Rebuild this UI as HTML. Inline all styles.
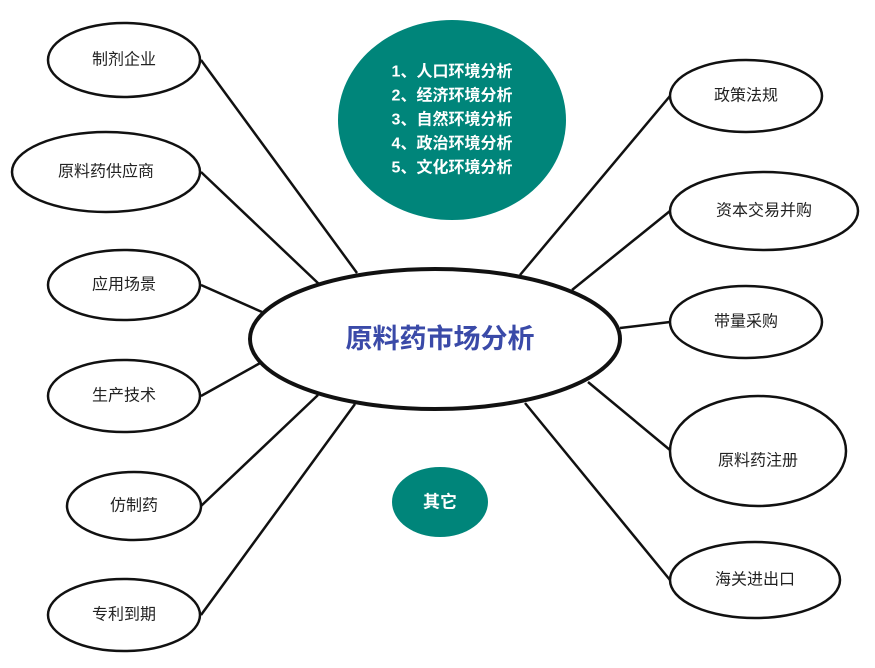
<!DOCTYPE html>
<html><head><meta charset="utf-8"><style>
html,body{margin:0;padding:0;background:#fff}
svg text{font-family:"Liberation Sans","Noto Sans CJK SC",sans-serif;text-anchor:middle;dominant-baseline:central}
</style></head><body>
<svg width="875" height="663" viewBox="0 0 875 663" xmlns="http://www.w3.org/2000/svg">
<g stroke="#111" stroke-width="2.5" fill="none">
<line x1="201" y1="60" x2="357" y2="273"/>
<line x1="201" y1="172" x2="320" y2="285"/>
<line x1="201" y1="285" x2="262" y2="312"/>
<line x1="201" y1="396" x2="262" y2="362"/>
<line x1="201" y1="506" x2="318" y2="395"/>
<line x1="201" y1="615" x2="355" y2="404"/>
<line x1="670" y1="96" x2="520" y2="275"/>
<line x1="670" y1="211" x2="572" y2="290"/>
<line x1="670" y1="322" x2="620" y2="328"/>
<line x1="670" y1="450" x2="588" y2="382"/>
<line x1="670" y1="580" x2="525" y2="403"/>
</g>
<ellipse cx="452" cy="120" rx="114" ry="100" fill="#00857a"/>
<g fill="#fff" font-weight="bold" font-size="16">
<text x="452" y="72">1、人口环境分析</text>
<text x="452" y="96">2、经济环境分析</text>
<text x="452" y="120">3、自然环境分析</text>
<text x="452" y="144">4、政治环境分析</text>
<text x="452" y="168">5、文化环境分析</text>
</g>
<ellipse cx="440" cy="502" rx="48" ry="35" fill="#00857a"/>
<text x="440" y="502" fill="#fff" font-weight="bold" font-size="17">其它</text>
<g fill="#fff" stroke="#111" stroke-width="2.5">
<ellipse cx="124" cy="60" rx="76" ry="37"/>
<ellipse cx="106" cy="172" rx="94" ry="40"/>
<ellipse cx="124" cy="285" rx="76" ry="35"/>
<ellipse cx="124" cy="396" rx="76" ry="36"/>
<ellipse cx="134" cy="506" rx="67" ry="34"/>
<ellipse cx="124" cy="615" rx="76" ry="36"/>
<ellipse cx="746" cy="96" rx="76" ry="36"/>
<ellipse cx="764" cy="211" rx="94" ry="39"/>
<ellipse cx="746" cy="322" rx="76" ry="36"/>
<ellipse cx="758" cy="451" rx="88" ry="55"/>
<ellipse cx="755" cy="580" rx="85" ry="38"/>
<ellipse cx="435" cy="339" rx="185" ry="70" stroke-width="4"/>
</g>
<g fill="#222" font-size="16">
<text x="124" y="60">制剂企业</text>
<text x="106" y="172">原料药供应商</text>
<text x="124" y="285">应用场景</text>
<text x="124" y="396">生产技术</text>
<text x="134" y="506">仿制药</text>
<text x="124" y="615">专利到期</text>
<text x="746" y="96">政策法规</text>
<text x="764" y="211">资本交易并购</text>
<text x="746" y="322">带量采购</text>
<text x="758" y="461">原料药注册</text>
<text x="755" y="580">海关进出口</text>
</g>
<text x="440" y="339" fill="#3a4aa8" font-weight="bold" font-size="27">原料药市场分析</text>
</svg>
</body></html>
